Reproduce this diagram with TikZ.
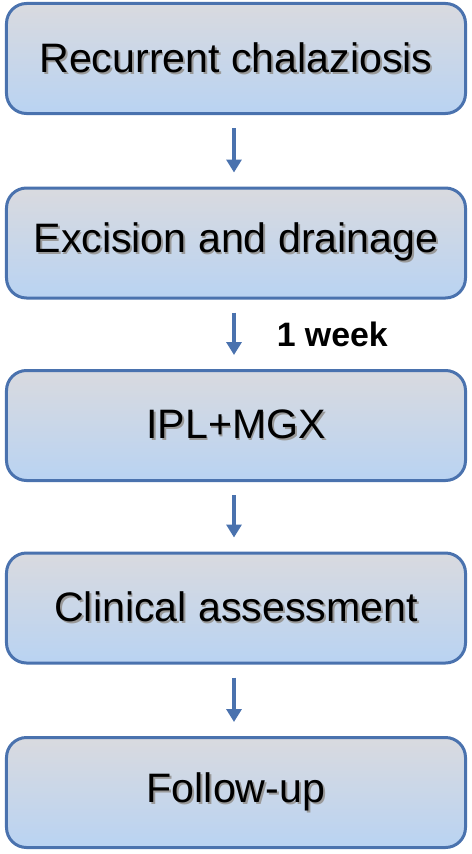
\documentclass[tikz,border=0pt]{standalone}
\usepackage{fontspec}
\setmainfont{Liberation Sans}
\usetikzlibrary{arrows.meta}
\definecolor{edgeblue}{HTML}{4A72AE}
\definecolor{topc}{HTML}{D9DADF}
\definecolor{botc}{HTML}{B9D3F2}
\newcommand\shadowed[1]{\makebox[0pt][l]{\kern1.8bp\raisebox{-1.8bp}{\color{black!40}#1}}#1}
\begin{document}
\begin{tikzpicture}[x=1bp,y=-1bp,
  stepbox/.style={draw=edgeblue, line width=3bp, rounded corners=20bp,
    top color=topc, bottom color=botc, minimum width=459bp, minimum height=110bp,
    inner sep=0pt, font=\fontsize{41.3}{48}\selectfont},
  flow/.style={draw=edgeblue, line width=3.5bp, -{Triangle[width=15bp,length=13bp]},
    shorten <=13bp, shorten >=14bp},
  note/.style={font=\fontsize{34}{40}\selectfont\bfseries, inner sep=0pt, anchor=west}]
\useasboundingbox (0,0) rectangle (472,854);
\node[stepbox] (s1) at (236,58.5) {\shadowed{Recurrent chalaziosis}};
\node[stepbox] (s2) at (236,243) {\shadowed{Excision and drainage}};
\node[stepbox] (s3) at (236,425.5) {\shadowed{IPL+MGX}};
\node[stepbox] (s4) at (236,608) {\shadowed{Clinical assessment}};
\node[stepbox] (s5) at (236,792.5) {\shadowed{Follow-up}};
\draw[flow] ([xshift=-2bp]s1.south) -- ([xshift=-2bp]s2.north);
\draw[flow] ([xshift=-2bp]s2.south) -- ([xshift=-2bp]s3.north)
  node[note, pos=0.5, xshift=41bp] (wk) {1 week};
\draw[flow] ([xshift=-2bp]s3.south) -- ([xshift=-2bp]s4.north);
\draw[flow] ([xshift=-2bp]s4.south) -- ([xshift=-2bp]s5.north);
\end{tikzpicture}
\end{document}
